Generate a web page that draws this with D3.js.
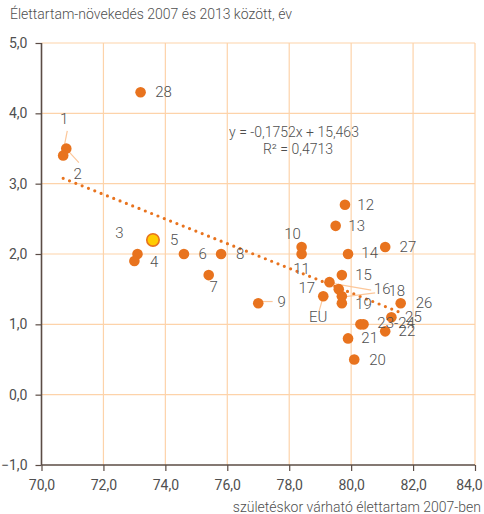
<!DOCTYPE html>
<html>
<head>
<meta charset="utf-8">
<script src="https://cdn.jsdelivr.net/npm/d3@7"></script>
<style>
  html, body { margin: 0; padding: 0; background: #ffffff; }
  svg { display: block; }
  text { font-family: Roboto, "Open Sans", sans-serif; fill: #4f4f4f; }
</style>
</head>
<body>
<svg id="chart" width="484" height="514"></svg>
<script>
// Country codes, life expectancy at birth in 2007 and gain 2007–2013
const codes = ["1","2","3","4","5","6","7","8","9","10","11","12","13","14","15",
               "16","17","18","19","20","21","22","23","24","25","26","27","28","EU"];
const lifeExp2007 = [70.8,70.7,73.1,73.0,73.6,74.6,75.4,75.8,77.0,78.4,78.4,79.8,79.5,79.9,79.7,
                     79.3,79.6,79.7,79.7,80.1,79.9,81.1,80.3,80.4,81.3,81.6,81.1,73.2,79.1];
const gain = [3.5,3.4,2.0,1.9,2.2,2.0,1.7,2.0,1.3,2.1,2.0,2.7,2.4,2.0,1.7,
              1.6,1.5,1.4,1.3,0.5,0.8,0.9,1.0,1.0,1.1,1.3,2.1,4.3,1.4];
const highlighted = ["5"];

// Tick values
const xTicks = [70,72,74,76,78,80,82,84];
const yTicks = [-1,0,1,2,3,4,5];

// Regression
const slope = -0.1752, intercept = 15.463;
const equationText = "y =  -0,1752x + 15,463";
const r2Text = "R² = 0,4713";

// Label text per code (23 and 24 share one label)
const labelText = {"23": "23-24", "24": null};

// Label placement: text offset from its point, optional leader line [x1,y1,x2,y2] relative to the point
const labelLayout = {
  "1": {dx: -2, dy: -30, leader: [1, -17.6, -3.4, 4.7]},
  "2": {dx: 14.4, dy: 18.3, leader: [3.4, -6.4, 15.7, 7]},
  "3": {dx: -18, dy: -21},
  "4": {dx: 19.7, dy: 1.3},
  "5": {dx: 21.3, dy: 0},
  "6": {dx: 18.7, dy: 0},
  "7": {dx: 5, dy: 12},
  "8": {dx: 19, dy: 0},
  "9": {dx: 23.4, dy: -1.7, leader: [3.4, -1.7, 14.4, -1.7]},
  "10": {dx: -9, dy: -13.4},
  "11": {dx: 0, dy: 15.3},
  "12": {dx: 20.7, dy: 0},
  "13": {dx: 21, dy: 0},
  "14": {dx: 21.6, dy: -1.3},
  "15": {dx: 21.6, dy: 0},
  "16": {dx: 52.7, dy: 6.7, leader: [0, 0.7, 41.7, 8]},
  "17": {dx: -32, dy: -1.3},
  "18": {dx: 55, dy: -5.7, leader: [0, 1, 33.3, -3.4]},
  "19": {dx: 21.6, dy: 1},
  "20": {dx: 23.3, dy: 0},
  "21": {dx: 21.6, dy: 0},
  "22": {dx: 21.7, dy: -0.6},
  "23": {dx: 35.7, dy: -1.6},
  "25": {dx: 22, dy: 0},
  "26": {dx: 23.3, dy: 0},
  "27": {dx: 22.7, dy: 0},
  "28": {dx: 23, dy: 0},
  "EU": {dx: -5, dy: 21, leader: [-0.4, 1.6, -4.4, 15.6]}
};

const fmt = v => d3.format(".1f")(v).replace(".", ",").replace("-", "\u2212");

const svg = d3.select("#chart");
const plot = {left: 41.5, right: 475, top: 43, bottom: 465};

const x = d3.scaleLinear().domain([70, 84]).range([plot.left, plot.right]);
const y = d3.scaleLinear().domain([-1, 5]).range([plot.bottom, plot.top]);

const points = codes.map((c, i) => ({code: c, x: lifeExp2007[i], y: gain[i]}));

// Grid
const grid = svg.append("g").attr("stroke", "#fdd3aa").attr("stroke-width", 1.2);
grid.selectAll("line.h").data(yTicks.filter(t => t > -1)).join("line")
  .attr("x1", plot.left).attr("x2", plot.right)
  .attr("y1", d => y(d)).attr("y2", d => y(d));
grid.selectAll("line.v").data(xTicks.filter(t => t > 70)).join("line")
  .attr("y1", plot.top).attr("y2", plot.bottom)
  .attr("x1", d => x(d)).attr("x2", d => x(d));

// Axes
const axisColor = "#5b4c45";
const yAxis = svg.append("g").attr("transform", `translate(${plot.left},0)`)
  .call(d3.axisLeft(y).tickValues(yTicks).tickSize(6).tickPadding(8).tickFormat(fmt));
const xAxis = svg.append("g").attr("transform", `translate(0,${plot.bottom})`)
  .call(d3.axisBottom(x).tickValues(xTicks).tickSize(6).tickPadding(9).tickFormat(fmt));
[xAxis, yAxis].forEach(a => {
  a.select(".domain").attr("stroke", axisColor).attr("stroke-width", 1.6);
  a.selectAll(".tick line").attr("stroke", axisColor).attr("stroke-width", 1.2);
  a.selectAll(".tick text").attr("fill", "#4f4f4f").style("font-size", "14px")
    .style("font-family", "Roboto, sans-serif");
});
// Last x label is kept inside the right edge
xAxis.selectAll(".tick text").filter(d => d === 84).attr("text-anchor", "end").attr("dx", "7px");
// Drop the outer tick stubs produced by the domain path
yAxis.select(".domain").attr("d", `M0,${plot.top}V${plot.bottom}`);
xAxis.select(".domain").attr("d", `M${plot.left},0H${plot.right}`);

// Trend line over the data range
const xMin = d3.min(lifeExp2007), xMax = d3.max(lifeExp2007);
svg.append("line")
  .attr("x1", x(xMin)).attr("y1", y(slope * xMin + intercept))
  .attr("x2", x(xMax)).attr("y2", y(slope * xMax + intercept))
  .attr("stroke", "#e8731e").attr("stroke-width", 3.2)
  .attr("stroke-linecap", "round").attr("stroke-dasharray", "0 6.8");

// Leader lines
const leaders = svg.append("g").attr("stroke", "#fcc79a").attr("stroke-width", 1.2);
points.forEach(p => {
  const l = labelLayout[p.code];
  if (l && l.leader) {
    leaders.append("line")
      .attr("x1", x(p.x) + l.leader[0]).attr("y1", y(p.y) + l.leader[1])
      .attr("x2", x(p.x) + l.leader[2]).attr("y2", y(p.y) + l.leader[3]);
  }
});

// Points
svg.append("g").selectAll("circle").data(points).join("circle")
  .attr("cx", d => x(d.x)).attr("cy", d => y(d.y))
  .attr("r", d => highlighted.includes(d.code) ? 6.2 : 5.3)
  .attr("fill", d => highlighted.includes(d.code) ? "#ffcc00" : "#e8731e")
  .attr("stroke", d => highlighted.includes(d.code) ? "#e8731e" : "none")
  .attr("stroke-width", 1.6);

// Point labels
svg.append("g").selectAll("text").data(points.filter(p => labelText[p.code] !== null)).join("text")
  .attr("x", d => x(d.x) + labelLayout[d.code].dx)
  .attr("y", d => y(d.y) + labelLayout[d.code].dy)
  .attr("text-anchor", "middle").attr("dominant-baseline", "central")
  .style("font-size", "15px").style("font-weight", 300)
  .text(d => labelText[d.code] !== undefined ? labelText[d.code] : d.code);

// Regression annotation
svg.append("text").attr("x", 294).attr("y", 131.5)
  .attr("text-anchor", "middle").attr("dominant-baseline", "central")
  .style("font-size", "14px").style("font-weight", 300).text(equationText);
svg.append("text").attr("x", 298).attr("y", 148.5)
  .attr("text-anchor", "middle").attr("dominant-baseline", "central")
  .style("font-size", "14px").style("font-weight", 300).text(r2Text);

// Axis titles
svg.append("text").attr("x", 10).attr("y", 19)
  .style("font-size", "14px").style("font-weight", 300)
  .text("Élettartam-növekedés 2007 és 2013 között, év");
svg.append("text").attr("x", 481).attr("y", 512).attr("text-anchor", "end")
  .style("font-size", "14px").style("font-weight", 300)
  .text("születéskor várható élettartam 2007-ben");
</script>
</body>
</html>
